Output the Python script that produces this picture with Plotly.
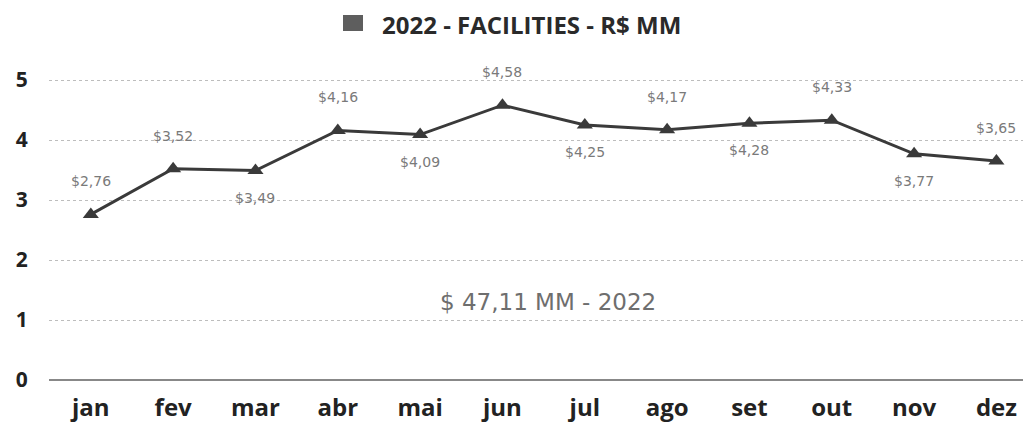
import plotly.graph_objects as go

months = ["jan", "fev", "mar", "abr", "mai", "jun", "jul", "ago", "set", "out", "nov", "dez"]
values = [2.76, 3.52, 3.49, 4.16, 4.09, 4.58, 4.25, 4.17, 4.28, 4.33, 3.77, 3.65]
label_side = ["up", "up", "down", "up", "down", "up", "down", "up", "down", "up", "down", "up"]
y_ticks = [0, 1, 2, 3, 4, 5]
title_text = "2022 - FACILITIES - R$ MM"
total_text = "$ 47,11 MM - 2022"
total_y = 1.3

fig = go.Figure()
fig.add_trace(go.Scatter(
    x=months, y=values, mode="lines+markers",
    line=dict(color="#3a3a3a", width=3),
    marker=dict(symbol="triangle-up", size=14, color="#3a3a3a"),
    showlegend=False, hoverinfo="skip",
))

for m, v, s in zip(months, values, label_side):
    fig.add_annotation(
        x=m, y=v, text="$" + f"{v:.2f}".replace(".", ","),
        showarrow=False, yshift=33 if s == "up" else -27,
        font=dict(family="DejaVu Sans", size=14, color="#7a7a7a"),
    )

fig.add_annotation(
    xref="paper", yref="y", x=0.508, y=total_y, text=total_text, showarrow=False,
    font=dict(family="DejaVu Sans", size=23, color="#6e6e6e"),
)

# title with legend-like swatch
fig.add_annotation(
    xref="paper", yref="paper", x=0.4914, y=1.0, yshift=26, yanchor="middle",
    text="<b>" + title_text + "</b>", showarrow=False,
    font=dict(family="Open Sans", size=24, color="#2a2a2a"),
)
fig.add_shape(
    type="rect", xref="paper", yref="paper",
    xsizemode="pixel", ysizemode="pixel",
    xanchor=0.3096, yanchor=1.0, x0=-10, x1=10, y0=19, y1=35,
    fillcolor="#5e5e5e", line=dict(width=0),
)

fig.update_layout(
    width=1031, height=423,
    margin=dict(l=38, r=8, t=42, b=50),
    paper_bgcolor="white", plot_bgcolor="white",
    xaxis=dict(
        range=[-0.508, 11.42], showgrid=False, zeroline=False, showline=False,
        ticks="outside", ticklen=6, tickcolor="rgba(0,0,0,0)",
        tickfont=dict(family="Open Sans", size=24, color="#222", weight="bold"),
    ),
    yaxis=dict(
        range=[0, 5.5], tickvals=y_ticks, showgrid=True, gridcolor="#bdbdbd", gridwidth=1,
        griddash="dot", zeroline=True, zerolinecolor="#888888", zerolinewidth=2,
        ticks="outside", ticklen=16, tickcolor="rgba(0,0,0,0)",
        tickfont=dict(family="Open Sans", size=21, color="#222", weight="bold"),
    ),
)

fig.write_html("out.html")
